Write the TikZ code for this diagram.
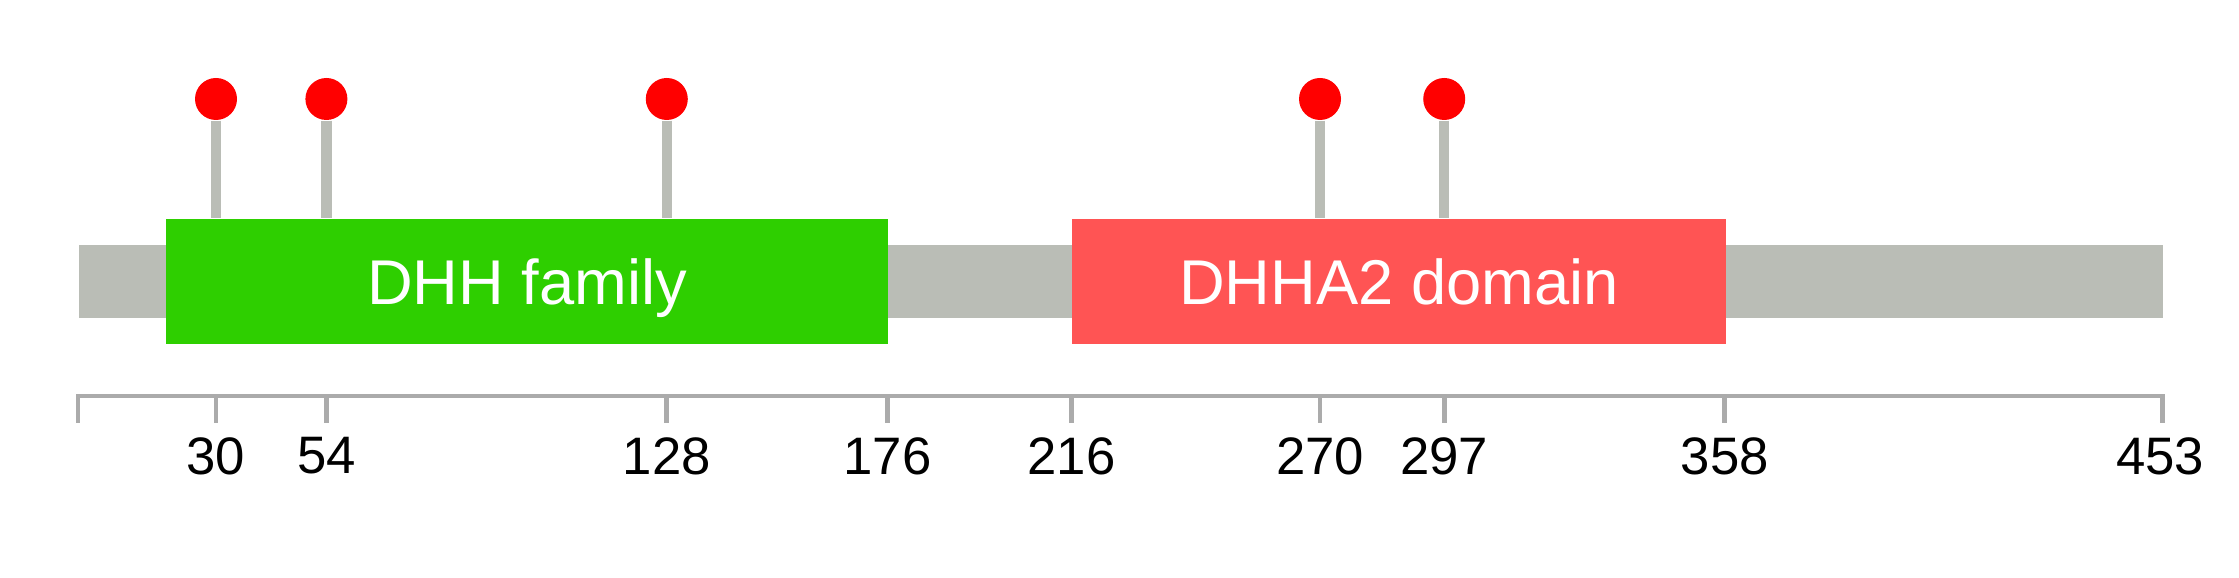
\documentclass[tikz,border=0pt]{standalone}
\usepackage{fontspec}
\setmainfont{Liberation Sans}
\usetikzlibrary{positioning}
\definecolor{chaingray}{HTML}{BABDB6}
\definecolor{axgray}{HTML}{ABABAB}
\definecolor{dhhgrn}{HTML}{2ECF00}
\definecolor{dhhared}{HTML}{FF5454}
\definecolor{sitered}{HTML}{FF0000}
\tikzset{
  backbone/.style ={fill=chaingray,inner sep=0pt,minimum height=7.3mm},
  dom/.style      ={inner sep=0pt,minimum height=12.5mm,text=white,text height=4.6mm,
                    text depth=0pt,font=\fontsize{18}{20}\selectfont},
  site/.style     ={circle,fill=sitered,inner sep=0pt,minimum size=4.2mm},
  stem/.style     ={draw=chaingray,line width=3pt},
  axis/.style     ={draw=axgray,line width=1.4pt},
  num/.style      ={inner sep=0pt,font=\fontsize{15}{17}\selectfont},
}
\begin{document}
\begin{tikzpicture}[x=0.1mm,y=-0.1mm]
  \useasboundingbox (0,0) rectangle (2239,578);
  % protein chain and domains
  \node[backbone,minimum width=208.4mm,anchor=west] (chain) at (78,281.5) {};
  \node[dom,fill=dhhgrn,minimum width=72.22mm,anchor=west] (dhh) at (165.4,281.5) {DHH family};
  \node[dom,fill=dhhared,minimum width=65.32mm,anchor=west] (dhha2) at (1071.6,281.5) {DHHA2 domain};
  % sites
  \node[site] (s30) at (216,99) {};
  \node[site] (s54) at (326.4,99) {};
  \node[site] (s128) at (666.8,99) {};
  \node[site] (s270) at (1320,99) {};
  \node[site] (s297) at (1444.2,99) {};
  \draw[stem] (s30) -- (s30 |- dhh.north);  \draw[stem] (s54) -- (s54 |- dhh.north);
  \draw[stem] (s128) -- (s128 |- dhh.north);
  \draw[stem] (s270) -- (s270 |- dhha2.north);  \draw[stem] (s297) -- (s297 |- dhha2.north);
  % axis
  \draw[axis] (78,423) -- (78,396) -- (2162,396) -- (2162,423);
  \draw[axis] (216,396) -- (216,423);  \draw[axis] (326.4,396) -- (326.4,423);
  \draw[axis] (666.8,396) -- (666.8,423);  \draw[axis] (887.6,396) -- (887.6,423);
  \draw[axis] (1071.6,396) -- (1071.6,423);  \draw[axis] (1320,396) -- (1320,423);
  \draw[axis] (1444.2,396) -- (1444.2,423);  \draw[axis] (1724.8,396) -- (1724.8,423);
  \node[num] (n30) at (216,456) {30};
  \node[num] (n54) at (326.4,456) {54};
  \node[num] (n128) at (666.8,456) {128};
  \node[num] (n176) at (887.6,456) {176};
  \node[num] (n216) at (1071.6,456) {216};
  \node[num] (n270) at (1320,456) {270};
  \node[num] (n297) at (1444.2,456) {297};
  \node[num] (n358) at (1724.8,456) {358};
  \node[num] (n453) at (2160,456) {453};
\end{tikzpicture}
\end{document}
